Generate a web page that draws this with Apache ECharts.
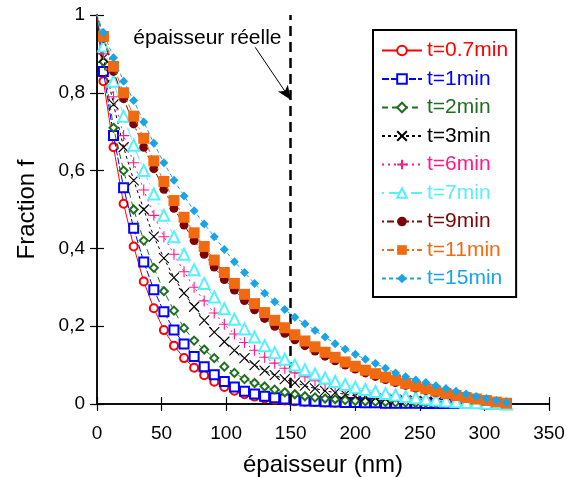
<!DOCTYPE html>
<html><head><meta charset="utf-8">
<script src="https://cdn.jsdelivr.net/npm/echarts@6/dist/echarts.min.js"></script>
<style>html,body{margin:0;padding:0;background:#fff}#c{width:567px;height:477px}</style>
</head><body><div id="c"></div>
<script>
const thickness = [0, 5, 12.8, 20.6, 28.4, 36.2, 44, 51.8, 59.6, 67.4, 75.2, 83, 90.8, 98.6, 106.4, 114.2, 122, 129.8, 137.6, 145.4, 153.2, 161, 168.8, 176.6, 184.4, 192.2, 200, 207.8, 215.6, 223.4, 231.2, 239, 246.8, 254.6, 262.4, 270.2, 278, 285.8, 293.6, 301.4, 309.2, 317];
const f_07 = [1, 0.83, 0.66, 0.515, 0.405, 0.315, 0.246, 0.19, 0.15, 0.118, 0.093, 0.074, 0.057, 0.044, 0.034, 0.025, 0.019, 0.014, 0.011, 0.009, 0.007, 0.006, 0.005, 0.004, 0.003, 0.003, 0.002, 0.002, 0.002, 0.001, 0.001, 0.001, 0.001, 0.001, 0.001, 0.001, 0, 0, 0, 0, 0, 0];
const f_1 = [1, 0.855, 0.69, 0.556, 0.452, 0.365, 0.294, 0.237, 0.19, 0.154, 0.122, 0.096, 0.075, 0.058, 0.044, 0.033, 0.026, 0.02, 0.016, 0.013, 0.01, 0.008, 0.007, 0.006, 0.005, 0.004, 0.004, 0.003, 0.003, 0.002, 0.002, 0.002, 0.002, 0.001, 0.001, 0.001, 0.001, 0.001, 0.001, 0, 0, 0];
const f_2 = [1, 0.88, 0.71, 0.6, 0.5, 0.42, 0.35, 0.29, 0.24, 0.195, 0.163, 0.14, 0.118, 0.096, 0.08, 0.064, 0.054, 0.045, 0.037, 0.03, 0.025, 0.02, 0.017, 0.014, 0.012, 0.01, 0.008, 0.007, 0.006, 0.005, 0.004, 0.004, 0.003, 0.003, 0.002, 0.002, 0.002, 0.001, 0.001, 0.001, 0.001, 0];
const f_3 = [1, 0.89, 0.77, 0.66, 0.575, 0.5, 0.43, 0.375, 0.325, 0.285, 0.25, 0.215, 0.185, 0.16, 0.138, 0.118, 0.1, 0.086, 0.074, 0.064, 0.055, 0.047, 0.04, 0.034, 0.029, 0.025, 0.021, 0.018, 0.015, 0.013, 0.011, 0.009, 0.008, 0.006, 0.005, 0.004, 0.003, 0.002, 0.002, 0.001, 0.001, 0];
const f_6 = [1, 0.9, 0.79, 0.69, 0.62, 0.55, 0.485, 0.43, 0.385, 0.34, 0.3, 0.265, 0.234, 0.205, 0.18, 0.158, 0.138, 0.12, 0.105, 0.092, 0.08, 0.07, 0.06, 0.052, 0.045, 0.039, 0.034, 0.029, 0.025, 0.021, 0.018, 0.015, 0.012, 0.01, 0.008, 0.006, 0.005, 0.004, 0.003, 0.002, 0.001, 0];
const f_7 = [1, 0.92, 0.83, 0.74, 0.665, 0.6, 0.54, 0.485, 0.43, 0.385, 0.345, 0.31, 0.275, 0.245, 0.218, 0.193, 0.172, 0.15, 0.132, 0.115, 0.1, 0.088, 0.077, 0.067, 0.058, 0.05, 0.043, 0.037, 0.032, 0.027, 0.023, 0.019, 0.016, 0.013, 0.01, 0.008, 0.006, 0.004, 0.003, 0.002, 0.001, 0];
const f_9 = [1, 0.94, 0.855, 0.785, 0.72, 0.66, 0.605, 0.552, 0.503, 0.46, 0.42, 0.385, 0.352, 0.32, 0.293, 0.266, 0.242, 0.22, 0.2, 0.182, 0.165, 0.15, 0.136, 0.123, 0.111, 0.1, 0.09, 0.08, 0.071, 0.063, 0.055, 0.048, 0.041, 0.035, 0.029, 0.024, 0.019, 0.015, 0.011, 0.007, 0.004, 0.001];
const f_11 = [1, 0.945, 0.868, 0.8, 0.74, 0.683, 0.625, 0.572, 0.523, 0.48, 0.44, 0.405, 0.37, 0.338, 0.31, 0.282, 0.258, 0.235, 0.215, 0.196, 0.178, 0.162, 0.147, 0.133, 0.12, 0.108, 0.097, 0.087, 0.078, 0.069, 0.061, 0.053, 0.046, 0.039, 0.033, 0.027, 0.022, 0.017, 0.013, 0.009, 0.005, 0.002];
const f_15 = [1, 0.955, 0.89, 0.83, 0.78, 0.725, 0.67, 0.62, 0.575, 0.535, 0.497, 0.463, 0.43, 0.397, 0.366, 0.338, 0.31, 0.285, 0.263, 0.243, 0.223, 0.206, 0.189, 0.172, 0.155, 0.141, 0.128, 0.115, 0.104, 0.092, 0.08, 0.07, 0.062, 0.055, 0.047, 0.04, 0.033, 0.026, 0.019, 0.014, 0.009, 0.004];
const seriesNames = ['t=0.7min','t=1min','t=2min','t=3min','t=6min','t=7min','t=9min','t=11min','t=15min'];
const xTicks = [0, 350, 50];
const yTicks = [0, 1, 0.2];
const realThickness = 150;
const annotationText = 'épaisseur réelle';

const values = [f_07, f_1, f_2, f_3, f_6, f_7, f_9, f_11, f_15];
const colors = ['#ff0000','#0000ff','#1d6e1d','#000000','#ff1a8c','#55f0ff','#7a0606','#f26a10','#1aa3e6'];
const symbols = ['emptyCircle','emptyRect','emptyDiamond','path://M0,0L10,10M10,0L0,10','path://M5,0L5,10M0,5L10,5','emptyTriangle','circle','rect','diamond'];
const symSizes = [8, 9, 8, 10, 11, 11, 9, 11, 9];
const dashes = ['solid',[7,2],[6,4],[3,3],[2,4],[2,5,12,3],[2,3,7,3],[2,3,7,3],[4,3]];

const series = values.map((v, i) => {
  const isPath = symbols[i].startsWith('path');
  return {
    name: seriesNames[i], type: 'line',
    data: thickness.map((x, k) => (k === 0 ? {value: [x, v[k]], symbol: 'none'} : [x, v[k]])),
    symbol: symbols[i], symbolSize: symSizes[i], showAllSymbol: true,
    lineStyle: {color: colors[i], width: 1, type: dashes[i]},
    itemStyle: isPath ? {color: colors[i], borderColor: colors[i], borderWidth: 1.1}
      : (symbols[i].startsWith('empty') ? {color: colors[i], borderColor: colors[i], borderWidth: 1} : {color: colors[i]}),
    z: 2 + i, animation: false
  };
});
series.push({
  name: 'ref', type: 'line', data: [],
  markLine: {silent: true, symbol: ['none','none'], animation: false,
    lineStyle: {color: '#000', width: 2.5, type: [10,6]}, label: {show: false},
    data: [{xAxis: realThickness}]},
  markPoint: {silent: true, symbol: 'circle', symbolSize: 0, animation: false,
    label: {show: true, formatter: annotationText, color: '#000', fontSize: 21, fontFamily: 'Liberation Sans'},
    data: [{coord: [85.5, 0.94]}]}
});
series.push({
  name: 'arrow', type: 'line', data: [],
  markLine: {silent: true, symbol: ['none','arrow'], symbolSize: [9, 14], animation: false,
    lineStyle: {color: '#000', width: 1, type: 'solid'}, label: {show: false},
    data: [[{coord: [122.5, 0.917]}, {coord: [150, 0.782]}]]}
});

const fontFam = 'Liberation Sans';
const axisCommon = {
  axisLine: {show: true, lineStyle: {color: '#000', width: 1.5}},
  axisTick: {show: true, inside: true, length: 7, lineStyle: {color: '#000', width: 1.2}},
  splitLine: {show: false}
};
const option = {
  animation: false,
  backgroundColor: '#fff',
  grid: {left: 97, right: 18, top: 15, bottom: 73, containLabel: false, outerBoundsMode: 'none'},
  xAxis: [
    Object.assign({type: 'value', min: xTicks[0], max: xTicks[1], interval: xTicks[2], position: 'bottom',
      name: 'épaisseur (nm)', nameLocation: 'middle', nameGap: 49,
      nameTextStyle: {fontSize: 24, color: '#000', fontFamily: fontFam},
      axisLabel: {fontSize: 19, color: '#000', margin: 20, fontFamily: fontFam}}, axisCommon),
    Object.assign({type: 'value', min: xTicks[0], max: xTicks[1], interval: xTicks[2], position: 'top',
      axisLabel: {show: false}}, axisCommon)
  ],
  yAxis: [
    Object.assign({type: 'value', min: yTicks[0], max: yTicks[1], interval: yTicks[2], position: 'left',
      name: 'Fraction f', nameLocation: 'middle', nameGap: 58,
      nameTextStyle: {fontSize: 24, color: '#000', fontFamily: fontFam},
      axisLabel: {fontSize: 19, color: '#000', margin: 12, fontFamily: fontFam,
        formatter: v => (v === 0 ? '0' : (v === 1 ? '1' : v.toFixed(1).replace('.', ',')))}}, axisCommon),
    Object.assign({type: 'value', min: yTicks[0], max: yTicks[1], interval: yTicks[2], position: 'right',
      axisLabel: {show: false}}, axisCommon)
  ],
  legend: {
    orient: 'vertical', left: 373, top: 30, width: 145,
    backgroundColor: '#fff', borderColor: '#000', borderWidth: 2, borderRadius: 0,
    padding: [10, 8, 8, 8], itemGap: 7.5, itemWidth: 40, itemHeight: 12,
    textStyle: {fontSize: 21, fontFamily: fontFam},
    data: seriesNames.map((n, i) => ({name: n, textStyle: {color: colors[i]}})),
    selectedMode: false
  },
  series: series
};
const chart = echarts.init(document.getElementById('c'), null, {renderer: 'canvas'});
chart.setOption(option);
</script></body></html>
